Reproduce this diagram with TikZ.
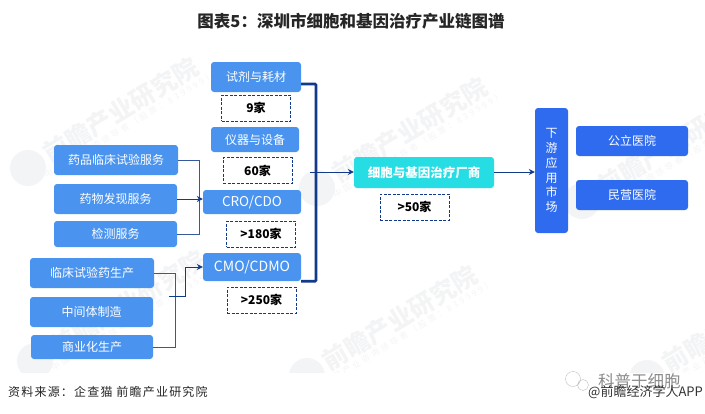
\documentclass[tikz,border=0pt]{standalone}
\usepackage{fontspec}
\setmainfont{Noto Sans CJK SC}
\usepackage{xcolor}
\usetikzlibrary{positioning,arrows.meta,calc}
\definecolor{skyBox}{HTML}{4A94F0}
\definecolor{royalBox}{HTML}{2F6BEF}
\definecolor{tealBox}{HTML}{26DDE3}
\definecolor{navyLine}{HTML}{123A8C}
\definecolor{markGrey}{HTML}{F3F4F6}

\begin{document}
\begin{tikzpicture}[
    x=1pt, y=-1pt,
    every node/.style={font=\fontsize{12}{14}\selectfont},
    skyNode/.style={fill=skyBox, rounded corners=3pt, text=white, inner sep=0pt},
    royalNode/.style={fill=royalBox, rounded corners=3pt, text=white, inner sep=0pt},
    countNode/.style={draw=navyLine, dashed, dash pattern=on 3pt off 1.5pt, line width=0.9pt, fill=white, inner sep=0pt, minimum width=69pt, minimum height=26pt, font=\fontsize{12}{14}\selectfont\bfseries},
    thinLine/.style={draw=navyLine!85, line width=1pt},
    bracketLine/.style={draw=navyLine, line width=2.6pt, rounded corners=1pt},
    arrowLine/.style={draw=navyLine, line width=1pt, -{Stealth[length=6pt,width=6pt]}},
    markText/.style={text=markGrey, rotate=31, font=\fontsize{25}{28}\selectfont\bfseries},
    markSmall/.style={text=markGrey, rotate=31, font=\fontsize{8.5}{10}\selectfont\addfontfeature{LetterSpace=30}}
]
    % Bounding box
    \useasboundingbox (0, 0) rectangle (705, 413);

    % Watermarks
    \foreach \mx/\my [count=\mi] in {121/110, 410/130, 675/143, 128/303, 400/318, 740/320} {
        \fill[markGrey] (\mx-93, \my+58) circle (18);
        \node[markText] (mark\mi) at (\mx, \my) {前瞻产业研究院};
        \node[markSmall] (markSub\mi) at (\mx+8, \my+15) {中国产业咨询领导者（股票：839599）};
    }
    \fill[white] (0, 373) rectangle (705, 413);

    % Title
    \node[font=\fontsize{16.5}{18}\selectfont\bfseries, text=black!85] (title) at (351, 21) {图表5：深圳市细胞和基因治疗产业链图谱};

    % Middle column
    \node[skyNode, minimum width=90pt, minimum height=30pt] (reagent) at (256, 77) {试剂与耗材};
    \node[countNode] (reagentCount) at (256, 108) {9家};
    \node[skyNode, minimum width=88pt, minimum height=25pt] (device) at (255, 139.5) {仪器与设备};
    \node[countNode] (deviceCount) at (257.5, 170.5) {60家};
    \node[skyNode, minimum width=98pt, minimum height=24pt, font=\fontsize{13.5}{14}\selectfont] (cro) at (252, 202) {CRO/CDO};
    \node[countNode] (croCount) at (261, 234) {>180家};
    \node[skyNode, minimum width=98pt, minimum height=28pt, font=\fontsize{14}{14}\selectfont] (cmo) at (252, 267) {CMO/CDMO};
    \node[countNode] (cmoCount) at (261.5, 300) {>250家};

    % Upper left column
    \node[skyNode, minimum width=124pt, minimum height=30pt] (clinical) at (116, 160) {药品临床试验服务};
    \node[skyNode, minimum width=123pt, minimum height=30pt] (discovery) at (115.5, 199) {药物发现服务};
    \node[skyNode, minimum width=123pt, minimum height=26pt] (testing) at (115.5, 234) {检测服务};

    % Lower left column
    \node[skyNode, minimum width=124pt, minimum height=30pt] (trialDrug) at (92, 273) {临床试验药生产};
    \node[skyNode, minimum width=123pt, minimum height=30pt] (intermediate) at (91.5, 312) {中间体制造};
    \node[skyNode, minimum width=122pt, minimum height=24pt] (commercial) at (92, 347) {商业化生产};

    % Maker and market
    \node[fill=tealBox, rounded corners=3pt, text=white, inner sep=0pt, minimum width=140pt, minimum height=31pt, font=\fontsize{12.5}{14}\selectfont\bfseries] (maker) at (424, 172.5) {细胞与基因治疗厂商};
    \node[countNode] (makerCount) at (414.5, 207) {>50家};
    \node[royalNode, minimum width=33pt, minimum height=125pt, align=center, font=\fontsize{12}{14.8}\selectfont] (market) at (551.5, 170.5) {下\\游\\应\\用\\市\\场};
    \node[royalNode, minimum width=112pt, minimum height=30pt] (publicHosp) at (632, 141) {公立医院};
    \node[royalNode, minimum width=112pt, minimum height=30pt] (privateHosp) at (632, 195) {民营医院};

    % Free ends
    \coordinate (upperBus) at (199, 160);
    \coordinate (lowerBus) at (175, 273);
    \coordinate (lowerTap) at (169, 296);
    \coordinate (bracketTap) at (310, 172);
    \coordinate (bracketTop) at (316, 84);

    % Connectors
    \draw[thinLine] (clinical.east) -| (upperBus |- testing) -- (testing.east);
    \draw[arrowLine] (discovery.east) -- (cro.west |- discovery.east);
    \draw[thinLine] (trialDrug.east) -| (lowerBus |- commercial) -- (commercial.east);
    \draw[arrowLine] (lowerTap) -| ($(lowerTap)!0.5!(cmo.west |- lowerTap)$) |- (cmo.west);
    \draw[bracketLine] (reagent.east |- bracketTop) -- (bracketTop) -- (bracketTop |- cmo.south) -- (cmo.south east);
    \draw[arrowLine] (bracketTap) -- (maker.west |- bracketTap);
    \draw[arrowLine] (maker.east |- bracketTap) -- (market.west |- bracketTap);

    % Footer
    \node[anchor=west, inner sep=0pt, font=\fontsize{12}{14}\selectfont\addfontfeature{LetterSpace=10}, text=black!85] (source) at (8, 392) {资料来源：企查猫 前瞻产业研究院};
    \draw[black!25] (573, 379) circle (7.5) (583, 385) circle (5.5);
    \node[anchor=west, inner sep=0pt, font=\fontsize{16.5}{18}\selectfont, text=black!45] (channel) at (598, 381) {科普于细胞};
    \node[anchor=west, inner sep=0pt, font=\fontsize{13}{15}\selectfont, text=black!80] (appMark) at (588, 392) {@前瞻经济学人APP};
\end{tikzpicture}
\end{document}
